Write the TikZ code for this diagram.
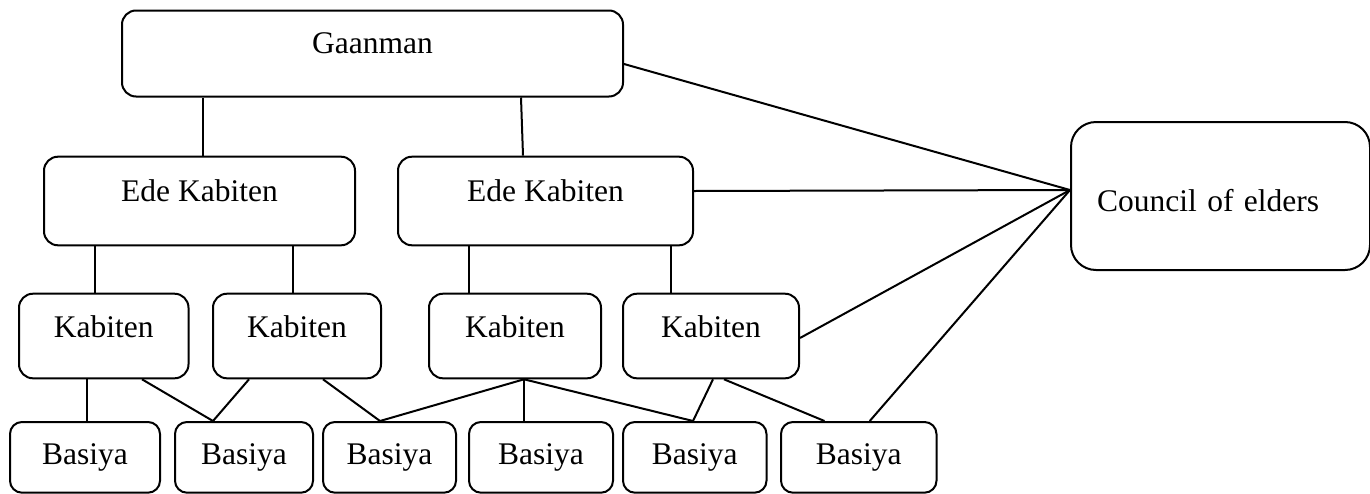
\documentclass[tikz,border=0pt]{standalone}
\usepackage{fontspec}
\setmainfont{Liberation Serif}

\tikzset{
  box/.style={draw, line width=2pt, rounded corners=14pt, inner sep=0pt,
    minimum height=0pt, anchor=north west},
  topbox/.style={box, text height=42.8pt, text depth=43.2pt},
  edebox/.style={box, text height=44.3pt, text depth=44.3pt},
  kabbox/.style={box, text height=43.3pt, text depth=41.3pt},
  basbox/.style={box, rounded corners=12pt, text height=42.3pt, text depth=28.4pt},
  link/.style={line width=2pt},
}

\begin{document}
\begin{tikzpicture}[x=1pt,y=-1pt,font=\fontsize{31.5}{36}\selectfont]
        \useasboundingbox (0,0) rectangle (1370,493);
        % top row
        \node[topbox, minimum width=501pt] (gaan) at (121,9.5) {Gaanman};
        \node[box, rounded corners=25pt, text width=247pt, inner xsep=26pt,
          align=left, text height=89pt, text depth=59pt] (council) at (1070,121) {Council of elders};
        \node[edebox, minimum width=311pt] (ede1) at (43,155.7) {Ede Kabiten};
        \node[edebox, minimum width=295pt] (ede2) at (397,155.7) {Ede Kabiten};
        \foreach \n/\l/\w in {1/18/169.5, 2/212/168, 3/428/172, 4/622/176} {
          \node[kabbox, minimum width=\w pt] (k\n) at (\l,292.7) {Kabiten};
        }
        \foreach \n/\l/\w in {1/9/150, 2/174/138, 3/322/133, 4/468/144, 5/622/143.5, 6/780/155.5} {
          \node[basbox, minimum width=\w pt] (b\n) at (\l,421) {Basiya};
        }
        % links to the council
        \coordinate (meet) at ([yshift=6pt]council.west);
        \draw[link] ([yshift=-10.5pt]gaan.east) -- (meet);
        \draw[link] ([yshift=10pt]ede2.east) -- (meet);
        \draw[link] ([yshift=-2pt]k4.east) -- (meet);
        \draw[link] ([xshift=11pt]b6.north) -- (meet);
        % tree links
        \draw[link] ([xshift=-169.5pt]gaan.south) -- ([xshift=3.5pt]ede1.north);
        \draw[link] ([xshift=148.5pt]gaan.south) -- ([xshift=-22.5pt]ede2.north);
        \foreach \a/\da/\b/\db in {%
          ede1/-104.5/k1/-8.75, ede1/93.5/k2/-4,
          ede2/-76.5/k3/-46, ede2/125.5/k4/-40,
          k1/-16.75/b1/2, k1/38.25/b2/-31,
          k2/-48/b2/-31, k2/26/b3/-9.5,
          k3/9/b3/-9.5, k3/9/b4/-17, k3/9/b5/-1.75,
          k4/2/b5/-1.75, k4/13/b6/-34.25} {
            \draw[link] ([xshift=\da pt]\a.south) -- ([xshift=\db pt]\b.north);
        }
\end{tikzpicture}
\end{document}
